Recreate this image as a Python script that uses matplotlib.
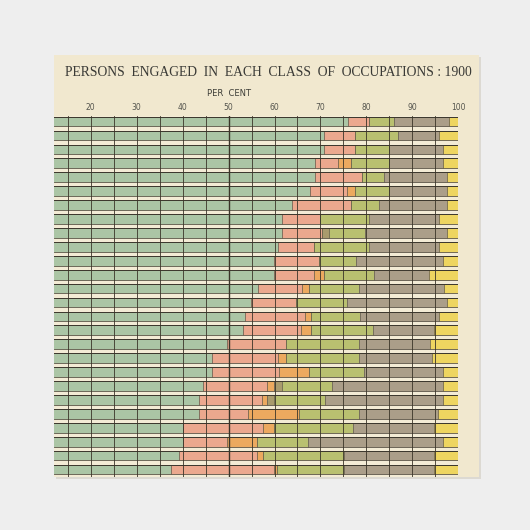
import matplotlib
matplotlib.use("Agg")
import matplotlib.pyplot as plt
import numpy as np
from matplotlib.patches import Rectangle

# ---- data (per cent of persons engaged, one row per state, top to bottom) ----
agriculture = [75.9, 70.8, 70.8, 68.9, 68.8, 67.7, 63.8, 61.6, 61.6, 60.7, 59.8, 59.8, 56.5,
               54.9, 53.6, 53.2, 49.6, 46.4, 46.3, 44.4, 43.5, 43.5, 40.0, 40.0, 39.1, 37.4]
manufacturing = [4.7, 6.8, 6.8, 5.0, 10.2, 8.0, 12.8, 8.3, 8.8, 7.9, 9.9, 8.8, 9.4,
                 9.7, 13.0, 12.5, 12.9, 14.3, 14.6, 13.9, 13.7, 10.8, 17.4, 9.6, 17.0, 22.4]
mining = [0, 0, 0, 2.7, 0, 1.9, 0, 0, 0, 0, 0, 2.2, 1.6,
          0, 1.3, 2.2, 0, 1.8, 6.6, 1.5, 1.1, 11.0, 2.4, 6.5, 1.3, 0.7]
fisheries = [0, 0, 0, 0, 0, 0, 0, 0, 1.5, 0, 0, 0, 0,
             0, 0, 0, 0, 0, 0, 1.8, 1.5, 0, 0, 0, 0, 0]
trade = [5.3, 9.2, 7.3, 8.3, 4.8, 7.3, 6.1, 10.7, 7.9, 12.0, 8.0, 10.8, 10.9,
         11.1, 10.7, 13.5, 15.9, 15.9, 12.0, 11.0, 11.2, 13.0, 17.3, 11.2, 17.8, 14.7]
domestic = [12.1, 9.0, 11.8, 11.8, 13.8, 12.7, 14.9, 15.2, 17.8, 15.2, 18.9, 12.0, 18.5,
            21.9, 17.2, 13.3, 15.4, 15.8, 17.1, 24.0, 25.6, 17.3, 17.6, 29.4, 19.5, 19.5]
professional = [2.0, 4.2, 3.3, 3.3, 2.4, 2.4, 2.4, 4.2, 2.4, 4.2, 3.4, 6.4, 3.1,
                2.4, 4.2, 5.3, 6.2, 5.8, 3.4, 3.4, 3.4, 4.4, 5.3, 3.3, 5.3, 5.3]
tick_values = [20, 30, 40, 50, 60, 70, 80, 90, 100]
title = "PERSONS  ENGAGED  IN  EACH  CLASS  OF  OCCUPATIONS : 1900"
axis_label = "PER  CENT"

series = [agriculture, manufacturing, mining, fisheries, trade, domestic, professional]
colors = ["#abc5a5", "#eba88e", "#eca95f", "#a99b6d", "#b9c070", "#ab9e89", "#eed560"]

W = H = 530
fig = plt.figure(figsize=(W / 100, H / 100), dpi=100, facecolor="#eeeeee")

def fx(px):
    return px / W

def fy(py):
    return 1 - py / H

# card
card_l, card_r, card_t, card_b = 54, 479, 55, 477
fig.patches.append(Rectangle((fx(card_l) + 0.004, fy(card_b) - 0.004), fx(card_r - card_l), fy(card_t) - fy(card_b),
                             transform=fig.transFigure, facecolor="#dcd9d2", edgecolor="none", zorder=-2))
fig.patches.append(Rectangle((fx(card_l), fy(card_b)), fx(card_r - card_l), fy(card_t) - fy(card_b),
                             transform=fig.transFigure, facecolor="#f1e8cf", edgecolor="none", zorder=-1))

# axes: x from 54 px (12%) to 458.3 px (100%), rows 116..477 px
ax_l, ax_r, ax_t, ax_b = 54, 458.3, 116, 477
ax = fig.add_axes([fx(ax_l), fy(ax_b), fx(ax_r - ax_l), fy(ax_t) - fy(ax_b)])
ax.set_zorder(5)
ax.set_facecolor("#f3ebd5")
n = len(agriculture)
ax.set_xlim(12, 100)
ax.set_ylim(n - 0.5 + 0.04, -0.4)
y = np.arange(n)

bh = 0.70
left = np.zeros(n)
for vals, col in zip(series, colors):
    vals = np.array(vals, dtype=float)
    ax.barh(y, vals, left=left, height=bh, color=col, edgecolor="#5a5244",
            linewidth=0.4, zorder=2)
    left += vals

# rules: a firm line on the top of each bar, a lighter one at its foot
for yi in y:
    ax.axhline(yi - bh / 2, color="#3c372d", lw=0.7, zorder=3)
    ax.axhline(yi + bh / 2, color="#5e574a", lw=0.45, zorder=3)

# vertical grid every 5 per cent
for v in range(15, 101, 5):
    ax.axvline(v, color="#3a3428", lw=1.0 if v == 50 else 0.6, zorder=4)

for s in ax.spines.values():
    s.set_visible(False)
ax.set_xticks([])
ax.set_yticks([])

# tick labels above
for v in tick_values:
    xp = ax_l + (v - 12) / 88 * (ax_r - ax_l)
    fig.text(fx(xp), fy(108), str(v), ha="center", va="center", fontsize=5.5,
             color="#55554e", family="DejaVu Sans")
fig.text(fx(229), fy(94), axis_label, ha="center", va="center", fontsize=6,
         color="#3e3e38", family="DejaVu Sans")
fig.text(fx(268), fy(72), title, ha="center", va="center", fontsize=9.8,
         color="#3a3a36", family="Liberation Serif")

fig.savefig("out.png", dpi=100, facecolor=fig.get_facecolor())
